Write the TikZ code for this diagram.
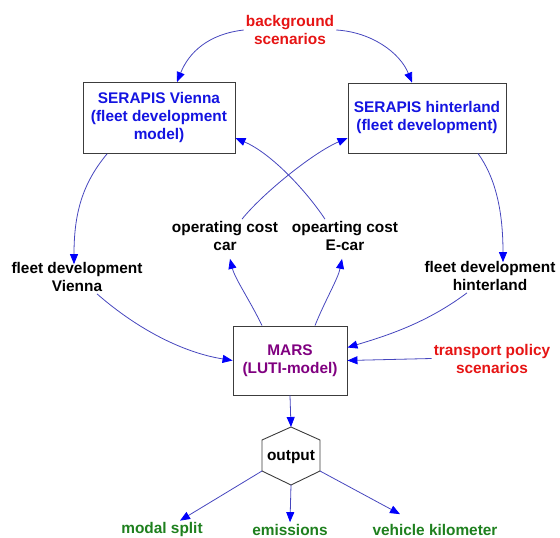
\documentclass[tikz,border=0pt]{standalone}
\usepackage{fontspec}
\setmainfont{Liberation Sans}
\usetikzlibrary{calc,arrows.meta}
\definecolor{txtblue}{RGB}{20,20,225}
\definecolor{txtred}{RGB}{230,20,20}
\definecolor{txtpurple}{RGB}{128,0,128}
\definecolor{txtgreen}{RGB}{30,128,30}
\definecolor{linecol}{RGB}{70,70,190}
\definecolor{tipcol}{RGB}{0,0,250}
\definecolor{boxcol}{RGB}{60,60,60}

\begin{document}
\begin{tikzpicture}[x=1pt,y=-1pt,
    lbl/.style={font=\fontsize{15.4}{18}\selectfont\bfseries, align=center, inner sep=2pt},
    model/.style={lbl, draw=boxcol, line width=0.9pt},
    arr/.style={draw=linecol, line width=0.8pt, -{Triangle[length=10pt,width=8pt,color=tipcol]}}]
 \useasboundingbox (0,0) rectangle (560,538);

    % scenarios
    \node[lbl, text=txtred] (bg) at (290,30) {background\\scenarios};
    \node[lbl, text=txtred] (tps) at (492,358.5) {transport policy\\scenarios};

    % fleet models
    \node[model, text=txtblue, minimum width=152, minimum height=71] (sv) at (159,118) {SERAPIS Vienna\\(fleet development\\model)};
    \node[model, text=txtblue, minimum width=158, minimum height=70] (sh) at (427,118) {SERAPIS hinterland\\(fleet development)};

    % intermediate variables
    \node[lbl] (fdv) at (77,277) {fleet development\\Vienna};
    \node[lbl] (fdh) at (490,276) {fleet development\\hinterland};
    \node[lbl] (occ) at (225,236) {operating cost\\car};
    \node[lbl] (oce) at (345,236) {opearting cost\\E-car};

    % LUTI model
    \node[model, text=txtpurple, minimum width=114, minimum height=69] (mars) at (290,360.5) {MARS\\(LUTI-model)};

    % output hexagon
    \node[lbl] (output) at (291,457) {output};
    \draw[boxcol, line width=0.9pt] ($(output)+(0,-30)$) coordinate (outN) -- ++(29,13) -- ++(0,31) coordinate (outSE)
        -- ++(-29,14) coordinate (outS) -- ++(-29,-14) coordinate (outSW) -- ++(0,-31) -- cycle;

    % results
    \node[lbl, text=txtgreen] (ms) at (162,530) {modal split};
    \node[lbl, text=txtgreen] (em) at (290,530) {emissions};
    \node[lbl, text=txtgreen] (vk) at (435,530) {vehicle kilometer};

    % draw arrows
    \draw[arr] (bg.west) .. controls +(-35,4) and +(12,-30) .. ([xshift=18pt]sv.north);
    \draw[arr] (bg.east) .. controls +(35,2) and +(-12,-30) .. ([xshift=-15pt]sh.north);
    \draw[arr] ([xshift=-52pt]sv.south) .. controls +(-25,30) and +(0,-50) .. ([xshift=-3pt,yshift=-4pt]fdv.north);
    \draw[arr] ([xshift=51pt]sh.south) .. controls +(18,25) and +(0,-50) .. ([xshift=13pt,yshift=-3pt]fdh.north);
    \draw[arr] ([xshift=20pt]fdv.south) .. controls +(40,35) and +(-50,-8) .. (mars.west);
    \draw[arr] ([xshift=-23pt]fdh.south) .. controls +(-40,30) and +(40,-12) .. ([yshift=13pt]mars.east);
    \draw[arr] (tps.west) -- (mars.east);
    \draw[arr] ([xshift=-28pt]mars.north) .. controls +(-12,-25) and +(5,20) .. ([xshift=5pt,yshift=-6pt]occ.south);
    \draw[arr] ([xshift=25pt]mars.north) .. controls +(10,-25) and +(-4,20) .. ([xshift=-3pt,yshift=-6pt]oce.south);
    \draw[arr] ([xshift=17pt]occ.north) .. controls +(20,-25) and +(-35,15) .. ([yshift=-20pt]sh.west);
    \draw[arr] ([xshift=-20pt]oce.north) .. controls +(-20,-30) and +(35,15) .. ([yshift=-20pt]sv.east);
    \draw[arr] (mars.south) -- (outN);
    \draw[arr] (outSW) -- ([xshift=18pt]ms.north);
    \draw[arr] (outS) -- (em.north);
    \draw[arr] (outSE) -- ([xshift=-35pt,yshift=8pt]vk.north);

\end{tikzpicture}
\end{document}
